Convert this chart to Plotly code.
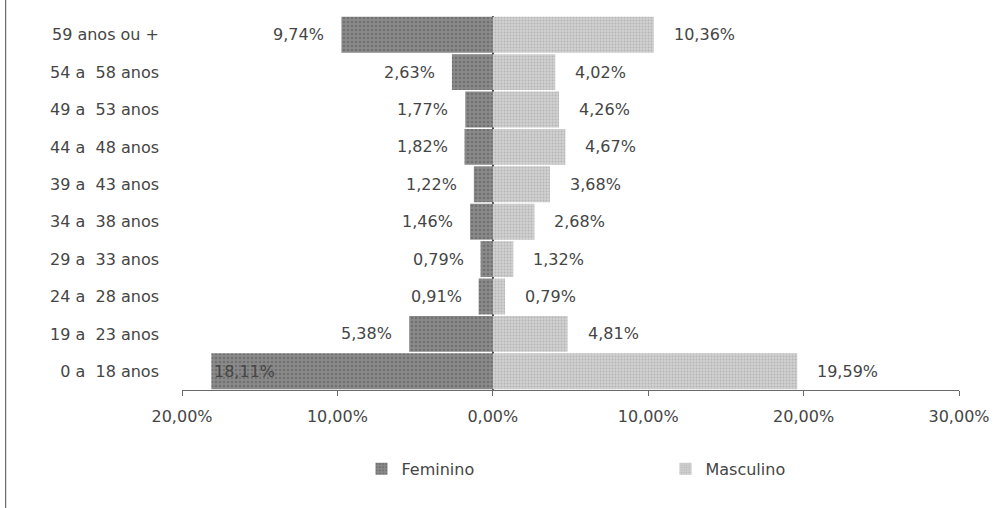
import plotly.graph_objects as go

categories = ["0 a\u00a0 18 anos", "19 a\u00a0 23 anos", "24 a\u00a0 28 anos", "29 a\u00a0 33 anos",
              "34 a\u00a0 38 anos", "39 a\u00a0 43 anos", "44 a\u00a0 48 anos", "49 a\u00a0 53 anos",
              "54 a\u00a0 58 anos", "59 anos ou +"]
feminino = [18.11, 5.38, 0.91, 0.79, 1.46, 1.22, 1.82, 1.77, 2.63, 9.74]
masculino = [19.59, 4.81, 0.79, 1.32, 2.68, 3.68, 4.67, 4.26, 4.02, 10.36]
tick_vals = [-20, -10, 0, 10, 20, 30]
tick_text = ["20,00%", "10,00%", "0,00%", "10,00%", "20,00%", "30,00%"]

FONT = "DejaVu Sans"
FS = 16
TXT = "#454545"

def fmt(v):
    return f"{v:.2f}".replace(".", ",") + "%"

fig = go.Figure()
fig.add_trace(go.Bar(
    y=categories, x=[-v for v in feminino], orientation="h", name="Feminino",
    marker=dict(color="#858585", line=dict(width=0),
                pattern=dict(shape=".", fgcolor="#555555", bgcolor="#8a8a8a", size=4, solidity=0.35)),
))
fig.add_trace(go.Bar(
    y=categories, x=masculino, orientation="h", name="Masculino",
    marker=dict(color="#c4c4c4", line=dict(width=0),
                pattern=dict(shape=".", fgcolor="#9a9a9a", bgcolor="#d0d0d0", size=3, solidity=0.35)),
))

annotations = []
for cat, v in zip(categories, feminino):
    if v > 15:
        annotations.append(dict(x=-v, y=cat, xref="x", yref="y", text=fmt(v), showarrow=False,
                                xanchor="left", xshift=1, font=dict(family=FONT, size=FS, color=TXT)))
    else:
        annotations.append(dict(x=-v, y=cat, xref="x", yref="y", text=fmt(v), showarrow=False,
                                xanchor="right", xshift=-15, font=dict(family=FONT, size=FS, color=TXT)))
for cat, v in zip(categories, masculino):
    annotations.append(dict(x=v, y=cat, xref="x", yref="y", text=fmt(v), showarrow=False,
                            xanchor="left", xshift=18, font=dict(family=FONT, size=FS, color=TXT)))

fig.update_layout(
    width=1002, height=508,
    margin=dict(l=182, r=40, t=16, b=118),
    barmode="overlay", bargap=0.04,
    plot_bgcolor="white", paper_bgcolor="white",
    font=dict(family=FONT, size=FS, color=TXT),
    annotations=annotations,
    legend=dict(orientation="h", x=0.231, xanchor="left", y=-0.211, yanchor="middle",
                entrywidth=259, entrywidthmode="pixels", itemwidth=30,
                font=dict(family=FONT, size=FS, color=TXT)),
    xaxis=dict(range=[-20, 30], tickvals=tick_vals, ticktext=tick_text, showgrid=False,
               zeroline=True, zerolinecolor="#4a4a4a", zerolinewidth=1.5,
               showline=True, linecolor="#6a6a6a", linewidth=1,
               ticks="outside", ticklen=5, tickcolor="#6a6a6a", ticklabelstandoff=7),
    yaxis=dict(showgrid=False, zeroline=False, showline=False, ticks="",
               ticklabelstandoff=22, categoryorder="array", categoryarray=categories),
    shapes=[dict(type="line", xref="paper", yref="paper", x0=-0.227, x1=-0.227, y0=-0.32, y1=1.05,
                 line=dict(color="#6a6a6a", width=1.2))],
)

fig.write_html("out.html", config={"displayModeBar": False},
               post_script="document.body.style.margin='0';")
